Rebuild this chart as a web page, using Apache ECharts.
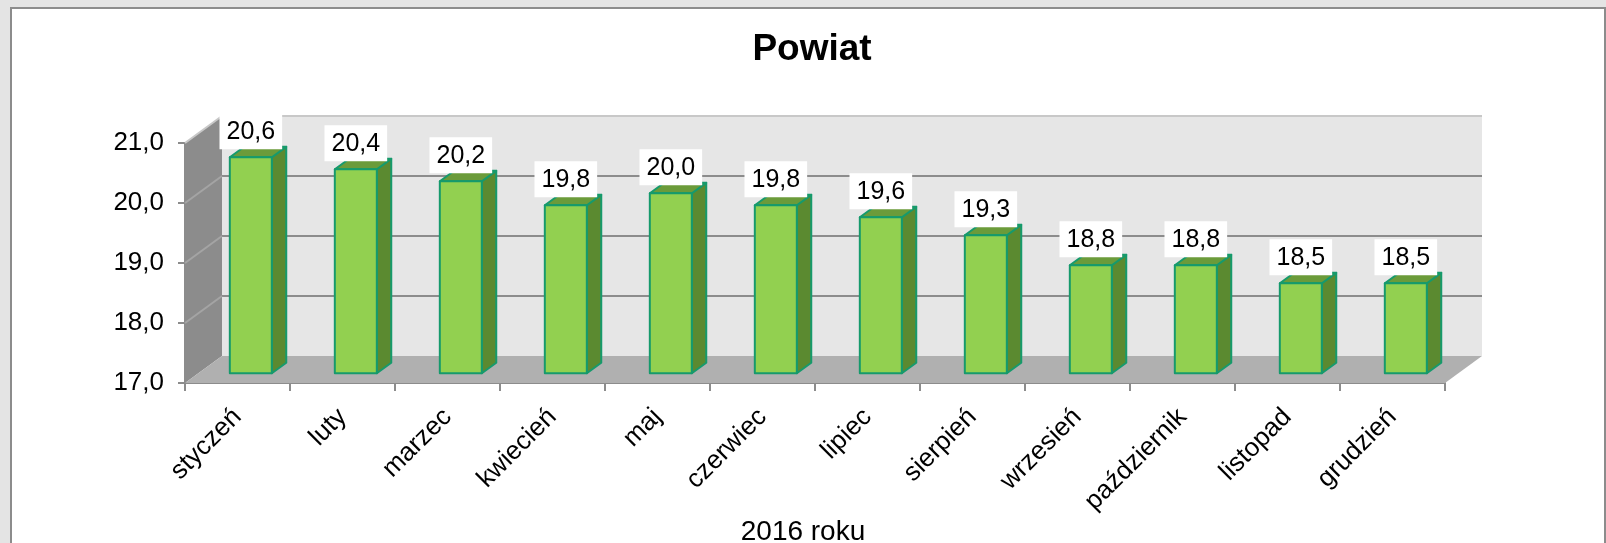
<!DOCTYPE html>
<html>
<head>
<meta charset="utf-8">
<script src="https://cdn.jsdelivr.net/npm/echarts@6/dist/echarts.min.js"></script>
<style>
html,body{margin:0;padding:0;background:#e4e4e4;}
#chart{width:1606px;height:543px;}
</style>
</head>
<body>
<div id="chart"></div>
<script>
// ---- data ----
const title = 'Powiat';
const axisName = '2016 roku';
const months = ['styczeń','luty','marzec','kwiecień','maj','czerwiec','lipiec','sierpień','wrzesień','październik','listopad','grudzień'];
const values = [20.6, 20.4, 20.2, 19.8, 20.0, 19.8, 19.6, 19.3, 18.8, 18.8, 18.5, 18.5];
const yTicks = [17, 18, 19, 20, 21];

// ---- styling / 3D look ----
const FONT = '"Liberation Sans", Arial, sans-serif';
const DEPTH = [37, -27];          // depth vector of the walls
const BAR_FRONT = 0.36;            // bar front plane position (fraction of depth)
const BAR_DEPTH = 0.39;            // bar thickness (fraction of depth)
const fmt = v => v.toFixed(1).replace('.', ',');

const chart = echarts.init(document.getElementById('chart'), null, {renderer: 'canvas'});

function wallsRender(params, api) {
  const cs = params.coordSys;
  const L = cs.x, R = cs.x + cs.width, T = cs.y, B = cs.y + cs.height;
  const dx = DEPTH[0], dy = DEPTH[1];
  const children = [
    {type: 'polygon', shape: {points: [[L + dx, T + dy], [R + dx, T + dy], [R + dx, B + dy], [L + dx, B + dy]]}, style: {fill: '#e6e6e6'}},
    {type: 'polygon', shape: {points: [[L, T], [L + dx, T + dy], [L + dx, B + dy], [L, B]]}, style: {fill: '#8c8c8c'}},
    {type: 'polygon', shape: {points: [[L, B], [L + dx, B + dy], [R + dx, B + dy], [R, B]]}, style: {fill: '#b0b0b0'}}
  ];
  yTicks.forEach((v, k) => {
    if (k === 0) return;
    const y = api.coord([0, v])[1];
    const top = k === yTicks.length - 1;
    children.push({type: 'line', shape: {x1: L + dx, y1: y + dy, x2: R + dx, y2: y + dy},
      style: {stroke: top ? '#c8c8c8' : '#8c8c8c', lineWidth: 2}});
    children.push({type: 'line', shape: {x1: L, y1: y, x2: L + dx, y2: y + dy},
      style: {stroke: top ? '#c8c8c8' : '#a4a4a4', lineWidth: 2}});
  });
  return {type: 'group', children};
}

function barRender(params, api) {
  const i = api.value(0), v = api.value(1);
  const base = api.coord([i, yTicks[0]]);
  const top = api.coord([i, v]);
  const bw = api.size([1, 0])[0] * 0.4;
  const ox = DEPTH[0] * BAR_FRONT, oy = DEPTH[1] * BAR_FRONT;
  const ddx = DEPTH[0] * BAR_DEPTH, ddy = DEPTH[1] * BAR_DEPTH;
  const x0 = top[0] + ox - bw / 2, x1 = x0 + bw;
  const yt = top[1] + oy, yb = base[1] + oy;
  const edge = {stroke: '#169a6c', lineWidth: 2, lineJoin: 'round'};
  return {type: 'group', children: [
    {type: 'polygon', shape: {points: [[x1, yt], [x1 + ddx, yt + ddy], [x1 + ddx, yb + ddy], [x1, yb]]},
      style: Object.assign({fill: '#5b8a30'}, edge)},
    {type: 'polygon', shape: {points: [[x0, yt], [x0 + ddx, yt + ddy], [x1 + ddx, yt + ddy], [x1, yt]]},
      style: Object.assign({fill: '#6b9b3a'}, edge)},
    {type: 'rect', shape: {x: x0, y: yt, width: bw, height: yb - yt},
      style: Object.assign({fill: '#92d050'}, edge)}
  ]};
}

function labelRender(params, api) {
  const i = api.value(0), v = api.value(1);
  const top = api.coord([i, v]);
  const ox = DEPTH[0] * BAR_FRONT, oy = DEPTH[1] * BAR_FRONT;
  return {type: 'text', x: top[0] + ox, y: top[1] + oy - 8,
    style: {text: fmt(v), fill: '#000', font: '25px ' + FONT, align: 'center', verticalAlign: 'bottom',
      backgroundColor: '#ffffff', padding: [6, 7, 5, 7]}};
}

const option = {
  animation: false,
  backgroundColor: '#e4e4e4',
  graphic: [{type: 'rect', left: 10, top: 7, z: -10, shape: {width: 1594, height: 600},
    style: {fill: '#ffffff', stroke: '#8c8c8c', lineWidth: 2}}],
  title: {text: title, left: 807, textAlign: 'center', top: 26,
    textStyle: {fontFamily: FONT, fontSize: 37, fontWeight: 'bold', color: '#000'}},
  grid: {left: 185, right: 161, top: 143, bottom: 160, containLabel: false, outerBoundsMode: 'none'},
  xAxis: {
    type: 'category', data: months,
    name: axisName, nameLocation: 'middle', nameGap: 130,
    nameTextStyle: {fontFamily: FONT, fontSize: 28, color: '#000', padding: [0, 24, 0, 0]},
    axisLine: {show: true, lineStyle: {color: '#8c8c8c', width: 2}},
    axisTick: {show: true, length: 8, interval: 0, lineStyle: {color: '#8c8c8c', width: 2}},
    axisLabel: {interval: 0, rotate: 45, margin: 30, fontFamily: FONT, fontSize: 26, color: '#000'},
    splitLine: {show: false}
  },
  yAxis: {
    type: 'value', min: 17, max: 21, interval: 1,
    axisLine: {show: true, lineStyle: {color: '#8c8c8c', width: 2}},
    axisTick: {show: true, length: 7, lineStyle: {color: '#8c8c8c', width: 2}},
    axisLabel: {margin: 21, fontFamily: FONT, fontSize: 26, color: '#000', formatter: v => fmt(v)},
    splitLine: {show: false}
  },
  series: [
    {type: 'custom', name: 'walls', renderItem: wallsRender, data: [[0, 17]], clip: false, z: 1, silent: true},
    {type: 'custom', name: 'bars', renderItem: barRender, data: values.map((v, i) => [i, v]), clip: false, z: 2},
    {type: 'custom', name: 'labels', renderItem: labelRender, data: values.map((v, i) => [i, v]), clip: false, z: 3}
  ]
};
chart.setOption(option);
</script>
</body>
</html>
